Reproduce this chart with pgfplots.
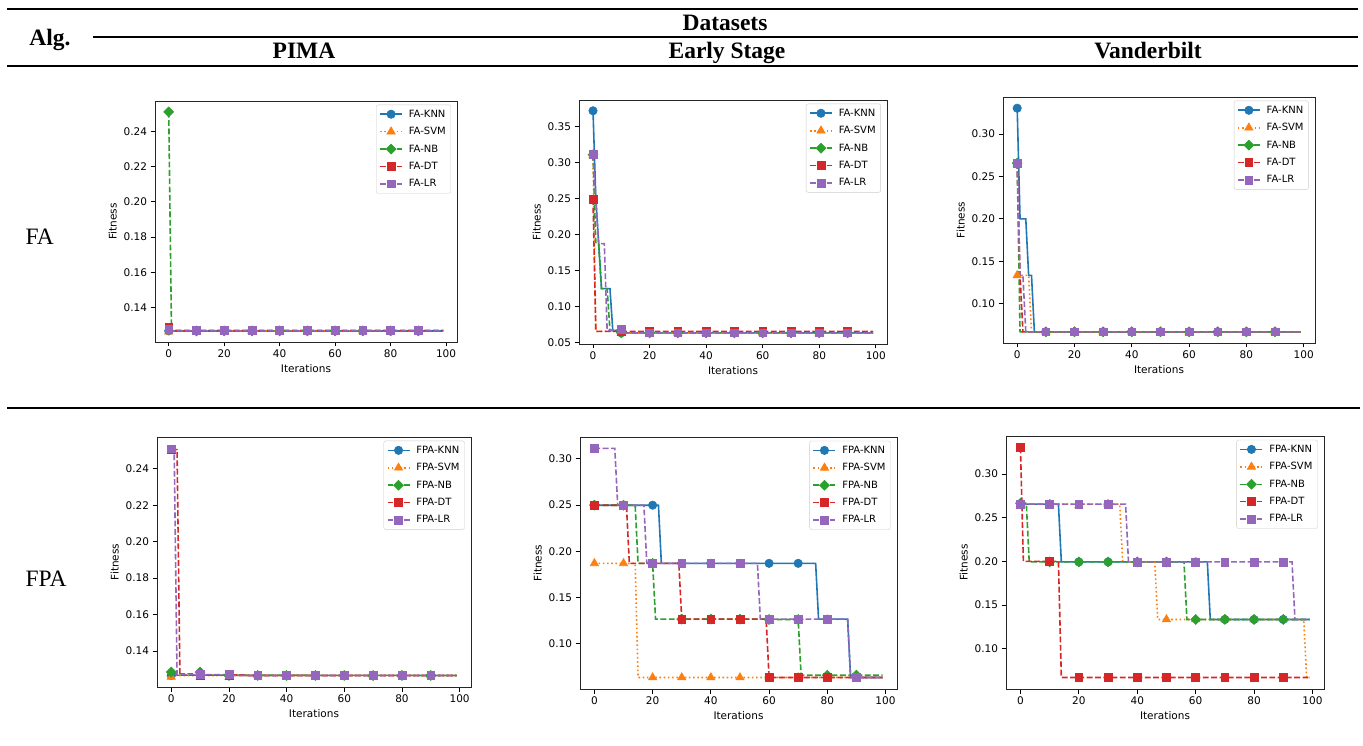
\documentclass[border=0pt]{standalone}
\usepackage{fontspec}
\setmainfont{Liberation Serif}
\newfontfamily\dejavu{DejaVu Sans}
\usepackage{pgfplots}
\pgfplotsset{compat=1.18}

\definecolor{c0}{HTML}{1F77B4}
\definecolor{c1}{HTML}{FF7F0E}
\definecolor{c2}{HTML}{2CA02C}
\definecolor{c3}{HTML}{D62728}
\definecolor{c4}{HTML}{9467BD}

\newcommand{\hfont}{\bfseries\fontsize{23.5}{28}\selectfont}
\newcommand{\rfont}{\fontsize{23.5}{28}\selectfont}
\newcommand{\sfont}{\dejavu\fontsize{10.5}{12.5}\selectfont}
\newcommand{\lfont}{\dejavu\fontsize{10}{12}\selectfont}

\pgfplotsset{
  knn/.style={color=c0, line width=1.6pt, solid, mark=*, mark size=4.2pt, mark options={solid, line width=0.6pt}},
  svm/.style={color=c1, line width=1.6pt, dash pattern=on 1.6pt off 2.6pt, mark=triangle*, mark size=4.8pt, mark options={solid, line width=0.6pt}},
  nb/.style={color=c2, line width=1.6pt, dash pattern=on 5.8pt off 2.5pt, mark=square*, mark size=3.5pt, mark options={solid, rotate=45, line width=0.6pt}},
  dt/.style={color=c3, line width=1.6pt, dash pattern=on 5.8pt off 2.5pt, mark=square*, mark size=3.9pt, mark options={solid, line width=0.6pt}},
  lr/.style={color=c4, line width=1.6pt, dash pattern=on 5.8pt off 2.5pt, mark=square*, mark size=3.9pt, mark options={solid, line width=0.6pt}},
  fitax/.style={
    scale only axis, anchor=south west,
    xmin=-4.95, xmax=103.95,
    xtick={0,20,40,60,80,100},
    tick pos=left, tick align=outside,
    major tick length=4.5pt,
    every tick/.style={black, line width=0.8pt},
    axis line style={line width=0.9pt, black!85},
    tick label style={font=\sfont},
    label style={font=\sfont},
    xlabel={Iterations}, ylabel={Fitness},
    /pgf/number format/assume math mode=true,
    yticklabel style={/pgf/number format/fixed, /pgf/number format/fixed zerofill, /pgf/number format/precision=2},
    legend style={at={(0.98,0.985)}, anchor=north east, font=\lfont, draw=black!20,
      rounded corners=2pt, fill=white,
      inner xsep=3pt, inner ysep=3pt, row sep=4.6pt,
      /tikz/every odd column/.append style={column sep=4pt}},
    legend cell align=left,
    legend image code/.code={\draw[mark repeat=2,mark phase=2,##1] plot coordinates {(0pt,0pt) (11pt,0pt) (22pt,0pt)};},
  },
}

% one series: the line through its change points, then its markers every 10 iterations
\newcommand{\ser}[3]{%
  \addplot[#1, mark=none, forget plot] coordinates {#2};
  \addplot[#1, only marks, forget plot] coordinates {#3};
}
\newcommand{\leg}[1]{%
  \addlegendimage{knn}\addlegendentry{#1-KNN}
  \addlegendimage{svm}\addlegendentry{#1-SVM}
  \addlegendimage{nb}\addlegendentry{#1-NB}
  \addlegendimage{dt}\addlegendentry{#1-DT}
  \addlegendimage{lr}\addlegendentry{#1-LR}
}

\begin{document}
\begin{tikzpicture}[x=1pt,y=1pt]
% table rules and headings
\draw[line width=1.8pt] (7,736) -- (1358,736);
\node[anchor=base, font=\hfont] at (725,714) {Datasets};
\draw[line width=1.3pt] (93,708) -- (1358,708);
\node[anchor=base, font=\hfont] at (50,699) {Alg.};
\node[anchor=base, font=\hfont] at (304,686) {PIMA};
\node[anchor=base, font=\hfont] at (727,686) {Early Stage};
\node[anchor=base, font=\hfont] at (1148,686) {Vanderbilt};
\draw[line width=1.8pt] (7,679) -- (1358,679);
\draw[line width=1.8pt] (7,337) -- (1360,337);
\node[anchor=base west, font=\rfont] at (22,500) {FA};
\node[anchor=base west, font=\rfont] at (22,159) {FPA};

% FA / PIMA
\begin{axis}[fitax, at={(155pt,403pt)}, width=302pt, height=241pt,
  ymin=0.1203, ymax=0.2574, ytick={0.14,0.16,0.18,0.20,0.22,0.24}]
\ser{knn}{(0,0.1266)(99,0.1266)}{(0,0.1266)(10,0.1266)(20,0.1266)(30,0.1266)(40,0.1266)(50,0.1266)(60,0.1266)(70,0.1266)(80,0.1266)(90,0.1266)}
\ser{svm}{(0,0.1262)(1,0.1266)(99,0.1266)}{(0,0.1262)(10,0.1266)(20,0.1266)(30,0.1266)(40,0.1266)(50,0.1266)(60,0.1266)(70,0.1266)(80,0.1266)(90,0.1266)}
\ser{nb}{(0,0.2512)(1,0.1266)(99,0.1266)}{(0,0.2512)(10,0.1266)(20,0.1266)(30,0.1266)(40,0.1266)(50,0.1266)(60,0.1266)(70,0.1266)(80,0.1266)(90,0.1266)}
\ser{dt}{(0,0.1288)(1,0.1269)(99,0.1269)}{(0,0.1288)(10,0.1269)(20,0.1269)(30,0.1269)(40,0.1269)(50,0.1269)(60,0.1269)(70,0.1269)(80,0.1269)(90,0.1269)}
\ser{lr}{(0,0.1275)(1,0.1268)(99,0.1268)}{(0,0.1275)(10,0.1268)(20,0.1268)(30,0.1268)(40,0.1268)(50,0.1268)(60,0.1268)(70,0.1268)(80,0.1268)(90,0.1268)}
\leg{FA}
\end{axis}

% FA / Early Stage
\begin{axis}[fitax, at={(579pt,401pt)}, width=308pt, height=244pt,
  ymin=0.048, ymax=0.387, ytick={0.05,0.10,0.15,0.20,0.25,0.30,0.35}]
\ser{knn}{(0,0.372)(1,0.25)(2,0.1875)(3,0.125)(6,0.125)(7,0.0667)(9,0.0667)(10,0.0635)(99,0.0635)}{(0,0.372)(10,0.0635)(20,0.0635)(30,0.0635)(40,0.0635)(50,0.0635)(60,0.0635)(70,0.0635)(80,0.0635)(90,0.0635)}
\ser{svm}{(0,0.310)(1,0.0655)(9,0.0655)(10,0.0630)(11,0.0635)(99,0.0635)}{(0,0.310)(10,0.0630)(20,0.0635)(30,0.0635)(40,0.0635)(50,0.0635)(60,0.0635)(70,0.0635)(80,0.0635)(90,0.0635)}
\ser{nb}{(0,0.311)(1,0.1875)(2,0.1875)(3,0.125)(5,0.125)(6,0.0667)(9,0.0667)(10,0.0635)(99,0.0635)}{(0,0.311)(10,0.0635)(20,0.0635)(30,0.0635)(40,0.0635)(50,0.0635)(60,0.0635)(70,0.0635)(80,0.0635)(90,0.0635)}
\ser{dt}{(0,0.249)(1,0.0655)(99,0.0655)}{(0,0.249)(10,0.0655)(20,0.0655)(30,0.0655)(40,0.0655)(50,0.0655)(60,0.0655)(70,0.0655)(80,0.0655)(90,0.0655)}
\ser{lr}{(0,0.311)(1,0.25)(2,0.1875)(4,0.1875)(5,0.0667)(10,0.068)(11,0.0635)(99,0.0635)}{(0,0.311)(10,0.068)(20,0.0635)(30,0.0635)(40,0.0635)(50,0.0635)(60,0.0635)(70,0.0635)(80,0.0635)(90,0.0635)}
\leg{FA}
\end{axis}

% FA / Vanderbilt
\begin{axis}[fitax, at={(1003pt,402pt)}, width=312pt, height=246pt,
  ymin=0.0535, ymax=0.3438, ytick={0.10,0.15,0.20,0.25,0.30}]
\ser{knn}{(0,0.3306)(1,0.2)(3,0.2)(4,0.1333)(5,0.1333)(6,0.0667)(99,0.0667)}{(0,0.3306)(10,0.0667)(20,0.0667)(30,0.0667)(40,0.0667)(50,0.0667)(60,0.0667)(70,0.0667)(80,0.0667)(90,0.0667)}
\ser{svm}{(0,0.1333)(4,0.1333)(5,0.0667)(99,0.0667)}{(0,0.1333)(10,0.0667)(20,0.0667)(30,0.0667)(40,0.0667)(50,0.0667)(60,0.0667)(70,0.0667)(80,0.0667)(90,0.0667)}
\ser{nb}{(0,0.2657)(1,0.0667)(99,0.0667)}{(0,0.2657)(10,0.0667)(20,0.0667)(30,0.0667)(40,0.0667)(50,0.0667)(60,0.0667)(70,0.0667)(80,0.0667)(90,0.0667)}
\ser{dt}{(0,0.2657)(1,0.1333)(2,0.0667)(99,0.0667)}{(0,0.2657)(10,0.0667)(20,0.0667)(30,0.0667)(40,0.0667)(50,0.0667)(60,0.0667)(70,0.0667)(80,0.0667)(90,0.0667)}
\ser{lr}{(0,0.2657)(1,0.1333)(2,0.1333)(3,0.0667)(99,0.0667)}{(0,0.2657)(10,0.0667)(20,0.0667)(30,0.0667)(40,0.0667)(50,0.0667)(60,0.0667)(70,0.0667)(80,0.0667)(90,0.0667)}
\leg{FA}
\end{axis}

% FPA / PIMA
\begin{axis}[fitax, at={(157pt,58pt)}, width=314pt, height=250pt,
  ymin=0.1203, ymax=0.2574, ytick={0.14,0.16,0.18,0.20,0.22,0.24}]
\ser{knn}{(0,0.1266)(99,0.1266)}{(0,0.1266)(10,0.1266)(20,0.1266)(30,0.1266)(40,0.1266)(50,0.1266)(60,0.1266)(70,0.1266)(80,0.1266)(90,0.1266)}
\ser{svm}{(0,0.1258)(1,0.1266)(9,0.1266)(10,0.1258)(11,0.1266)(19,0.1266)(20,0.1258)(21,0.1266)(99,0.1266)}{(0,0.1258)(10,0.1258)(20,0.1258)(30,0.1266)(40,0.1266)(50,0.1266)(60,0.1266)(70,0.1266)(80,0.1266)(90,0.1266)}
\ser{nb}{(0,0.1285)(1,0.1275)(9,0.1275)(10,0.1285)(11,0.1268)(99,0.1266)}{(0,0.1285)(10,0.1285)(20,0.1266)(30,0.1266)(40,0.1266)(50,0.1266)(60,0.1266)(70,0.1266)(80,0.1266)(90,0.1266)}
\ser{dt}{(0,0.2505)(2,0.2505)(3,0.1269)(25,0.1269)(26,0.1266)(99,0.1266)}{(0,0.2505)(10,0.1269)(20,0.1269)(30,0.1266)(40,0.1266)(50,0.1266)(60,0.1266)(70,0.1266)(80,0.1266)(90,0.1266)}
\ser{lr}{(0,0.2509)(1,0.2509)(2,0.1271)(20,0.1271)(21,0.1266)(99,0.1266)}{(0,0.2509)(10,0.1271)(20,0.1271)(30,0.1266)(40,0.1266)(50,0.1266)(60,0.1266)(70,0.1266)(80,0.1266)(90,0.1266)}
\leg{FPA}
\end{axis}

% FPA / Early Stage
\begin{axis}[fitax, at={(580pt,56pt)}, width=317pt, height=252pt,
  ymin=0.0511, ymax=0.3234, ytick={0.10,0.15,0.20,0.25,0.30}]
\ser{knn}{(0,0.2497)(22,0.2497)(23,0.1869)(76,0.1869)(77,0.1266)(87,0.1266)(88,0.0635)(99,0.0635)}{(0,0.2497)(10,0.2497)(20,0.2497)(30,0.1869)(40,0.1869)(50,0.1869)(60,0.1869)(70,0.1869)(80,0.1266)(90,0.0635)}
\ser{svm}{(0,0.1869)(14,0.1869)(15,0.0635)(99,0.0635)}{(0,0.1869)(10,0.1869)(20,0.0635)(30,0.0635)(40,0.0635)(50,0.0635)(60,0.0635)(70,0.0635)(80,0.0635)(90,0.0635)}
\ser{nb}{(0,0.2497)(14,0.2497)(15,0.1869)(20,0.1869)(21,0.1266)(59,0.1266)(60,0.1262)(70,0.1262)(71,0.0660)(99,0.0660)}{(0,0.2497)(10,0.2497)(20,0.1869)(30,0.1266)(40,0.1266)(50,0.1266)(60,0.1262)(70,0.1262)(80,0.0660)(90,0.0660)}
\ser{dt}{(0,0.2497)(11,0.2497)(12,0.1869)(29,0.1869)(30,0.1266)(59,0.1266)(60,0.0635)(99,0.0635)}{(0,0.2497)(10,0.2497)(20,0.1869)(30,0.1266)(40,0.1266)(50,0.1266)(60,0.0635)(70,0.0635)(80,0.0635)(90,0.0635)}
\ser{lr}{(0,0.3111)(7,0.3111)(8,0.2497)(17,0.2497)(18,0.1869)(56,0.1869)(57,0.1266)(87,0.1266)(88,0.0635)(99,0.0635)}{(0,0.3111)(10,0.2497)(20,0.1869)(30,0.1869)(40,0.1869)(50,0.1869)(60,0.1266)(70,0.1266)(80,0.1266)(90,0.0635)}
\leg{FPA}
\end{axis}

% FPA / Vanderbilt
\begin{axis}[fitax, at={(1006pt,56pt)}, width=318pt, height=253pt,
  ymin=0.0535, ymax=0.3438, ytick={0.10,0.15,0.20,0.25,0.30}]
\ser{knn}{(0,0.2657)(13,0.2657)(14,0.1993)(64,0.1993)(65,0.1333)(99,0.1333)}{(0,0.2657)(10,0.2657)(20,0.1993)(30,0.1993)(40,0.1993)(50,0.1993)(60,0.1993)(70,0.1333)(80,0.1333)(90,0.1333)}
\ser{svm}{(0,0.2657)(34,0.2657)(35,0.1993)(46,0.1993)(47,0.1333)(97,0.1333)(98,0.0667)(99,0.0667)}{(0,0.2657)(10,0.2657)(20,0.2640)(30,0.2657)(40,0.1993)(50,0.1333)(60,0.1333)(70,0.1333)(80,0.1333)(90,0.1333)}
\ser{nb}{(0,0.2667)(2,0.2667)(3,0.1993)(56,0.1993)(57,0.1333)(99,0.1333)}{(0,0.2667)(10,0.1993)(20,0.1993)(30,0.1993)(40,0.1993)(50,0.1993)(60,0.1333)(70,0.1333)(80,0.1333)(90,0.1333)}
\ser{dt}{(0,0.3306)(1,0.2)(13,0.2)(14,0.0667)(99,0.0667)}{(0,0.3306)(10,0.2)(20,0.0667)(30,0.0667)(40,0.0667)(50,0.0667)(60,0.0667)(70,0.0667)(80,0.0667)(90,0.0667)}
\ser{lr}{(0,0.2657)(36,0.2657)(37,0.1993)(93,0.1993)(94,0.1333)(99,0.1333)}{(0,0.2657)(10,0.2657)(20,0.2657)(30,0.2657)(40,0.1993)(50,0.1993)(60,0.1993)(70,0.1993)(80,0.1993)(90,0.1993)}
\leg{FPA}
\end{axis}

\pgfresetboundingbox
\useasboundingbox (0,0) rectangle (1363,745);
\end{tikzpicture}
\end{document}
